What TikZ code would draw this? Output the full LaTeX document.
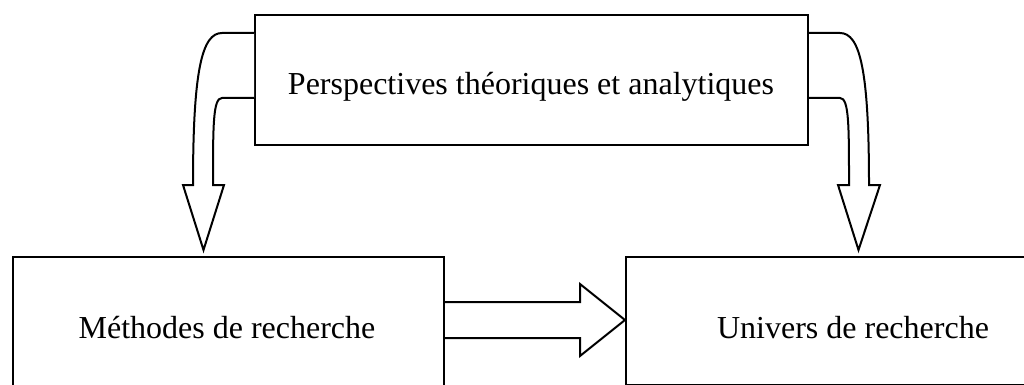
\documentclass[tikz,border=0pt]{standalone}
\usepackage{fontspec}
\setmainfont{Liberation Serif}
\usetikzlibrary{calc}
\begin{document}
\begin{tikzpicture}[x=1pt,y=-1pt,
  box/.style={draw,line width=2pt,inner sep=0pt,anchor=north west},
  lbl/.style={font=\fontsize{32}{38}\selectfont,inner sep=0pt,anchor=base},
  blk/.style={draw,line width=2pt,line join=miter,fill=white}]
\useasboundingbox (0,0) rectangle (1024,385);
\clip (0,0) rectangle (1024,385);
% three boxes
\node[box,minimum width=553pt,minimum height=130pt] (persp) at (254,14) {};
\node[box,minimum width=431pt,minimum height=136pt] (meth) at (12,256) {};
\node[box,minimum width=456pt,minimum height=128pt] (univ) at (625,256) {};
% labels
\node[lbl] (tp) at (531,95) {Perspectives théoriques et analytiques};
\node[lbl] (tm) at (227,338) {Méthodes de recherche};
\node[lbl] (tu) at (853,338) {Univers de recherche};
% arrow tips
\coordinate (tipL) at (203.5,250);
\coordinate (tipR) at (858.5,250);
% curved block arrow to the left box
\draw[blk] ([yshift=-19pt]persp.north west) -- (222,33)
  .. controls (202,33) and (193,70) .. (193,185) -- (183,185) -- (tipL)
  -- (224,185) -- (213,185) .. controls (213,125) and (213,98) .. (222,98)
  -- ([yshift=-84pt]persp.north west);
% curved block arrow to the right box
\draw[blk] ([yshift=-19pt]persp.north east) -- (840,33)
  .. controls (860,33) and (869,70) .. (869,185) -- (880,185) -- (tipR)
  -- (838,185) -- (849,185) .. controls (849,125) and (849,98) .. (840,98)
  -- ([yshift=-84pt]persp.north east);
% straight block arrow between the lower boxes
\draw[blk] ([yshift=-46pt]meth.north east) -- (580,302) -- (580,284)
  -- (univ.north west |- 0,320) -- (580,356) -- (580,338)
  -- ([yshift=-82pt]meth.north east);
\end{tikzpicture}
\end{document}
